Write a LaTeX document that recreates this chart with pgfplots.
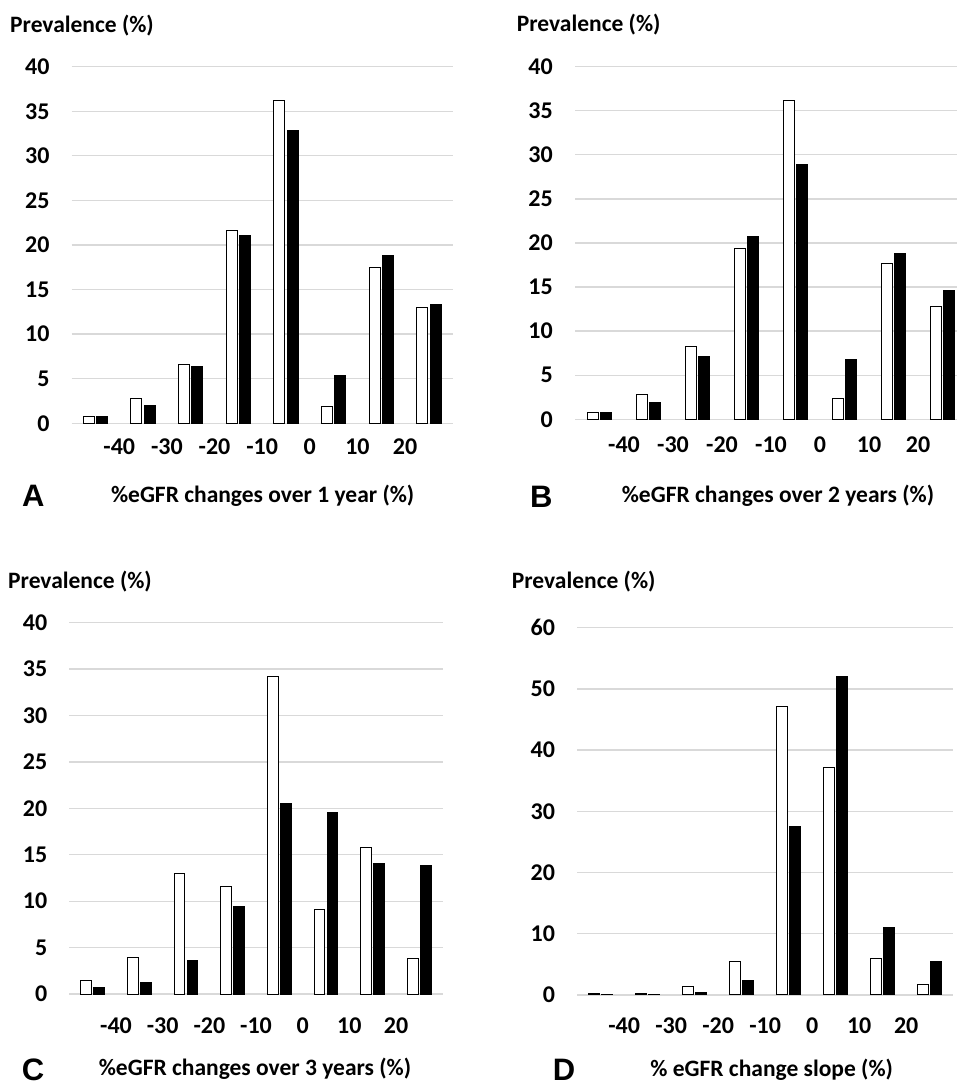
\documentclass[border=0pt]{standalone}
\usepackage{fontspec}
\setmainfont{Carlito}
\newfontfamily\letterfont{Liberation Sans}
\usepackage{pgfplots}
\pgfplotsset{compat=1.18}
\definecolor{gridgray}{RGB}{217,217,217}
\pgfplotsset{
  panel/.style={
    scale only axis, anchor=south west,
    xmin=-0.5, xmax=7.5, ymin=0,
    axis line style={draw=none},
    major tick length=0pt,
    ymajorgrids, grid style={gridgray, line width=1.3pt},
    xtick={0.5,1.5,2.5,3.5,4.5,5.5,6.5},
    xticklabels={-40,-30,-20,-10,0,10,20},
    /pgf/number format/assume math mode=true,
    ticklabel style={font=\fontsize{24}{24}\selectfont\bfseries, inner sep=0pt},
    yticklabel style={anchor=east, xshift=-22pt},
    clip=false,
  },
  wbar/.style={ybar, bar width=0.23, bar shift=-0.14, fill=white, draw=black, line width=1pt},
  bbar/.style={ybar, bar width=0.23, bar shift=0.14, fill=black, draw=black, line width=1pt},
}
\newcommand{\lblfont}{\fontsize{23.5}{23.5}\selectfont\bfseries}
\newcommand{\panelfont}{\letterfont\fontsize{31}{31}\selectfont\bfseries}
\begin{document}
\begin{tikzpicture}[x=1pt,y=1pt]
\path[use as bounding box] (0pt,0pt) rectangle (957pt,1088pt);
% Panel A
\begin{axis}[panel, at={(71.7pt,664.7pt)}, width=381pt, height=356.6pt, ymax=40,
  ytick={0,5,...,40}, xticklabel style={anchor=center, yshift=-23pt}]
\addplot[wbar] coordinates {(0,0.75) (1,2.73) (2,6.54) (3,21.57) (4,36.19) (5,1.94) (6,17.5) (7,13.0)};
\addplot[bbar] coordinates {(0,0.75) (1,1.98) (2,6.32) (3,21.05) (4,32.79) (5,5.38) (6,18.8) (7,13.27)};
\end{axis}
% Panel B
\begin{axis}[panel, at={(575pt,668.7pt)}, width=392pt, height=352.6pt, ymax=40,
  ytick={0,5,...,40}, xticklabel style={anchor=center, yshift=-25.7pt}]
\addplot[wbar] coordinates {(0,0.79) (1,2.84) (2,8.28) (3,19.36) (4,36.14) (5,2.31) (6,17.62) (7,12.85)};
\addplot[bbar] coordinates {(0,0.72) (1,1.89) (2,7.15) (3,20.72) (4,28.96) (5,6.84) (6,18.83) (7,14.56)};
\end{axis}
% Panel C
\begin{axis}[panel, at={(69.4pt,94pt)}, width=373.3pt, height=371.3pt, ymax=40,
  ytick={0,5,...,40}, xticklabel style={anchor=center, yshift=-31.7pt}]
\addplot[wbar] coordinates {(0,1.44) (1,3.95) (2,13.0) (3,11.56) (4,34.25) (5,9.12) (6,15.73) (7,3.84)};
\addplot[bbar] coordinates {(0,0.72) (1,1.22) (2,3.59) (3,9.48) (4,20.47) (5,19.5) (6,14.11) (7,13.86)};
\end{axis}
% Panel D
\begin{axis}[panel, at={(577.2pt,93pt)}, width=376pt, height=367.3pt, ymax=60,
  ytick={0,10,...,60}, xticklabel style={anchor=center, yshift=-30.7pt}]
\addplot[wbar] coordinates {(0,0.25) (1,0.25) (2,1.36) (3,5.55) (4,47.1) (5,37.2) (6,5.93) (7,1.74)};
\addplot[bbar] coordinates {(0,0.1) (1,0.1) (2,0.44) (3,2.34) (4,27.6) (5,52.1) (6,11.05) (7,5.55)};
\end{axis}
% Texts
\node[anchor=west, inner sep=0pt, font=\lblfont] at (10pt,1062pt) {Prevalence (\%)};
\node[anchor=west, inner sep=0pt, font=\lblfont] at (516.7pt,1063pt) {Prevalence (\%)};
\node[anchor=west, inner sep=0pt, font=\lblfont] at (8pt,506.3pt) {Prevalence (\%)};
\node[anchor=west, inner sep=0pt, font=\lblfont] at (511.7pt,506.3pt) {Prevalence (\%)};
\node[anchor=west, inner sep=0pt, font=\panelfont] at (22pt,592pt) {A};
\node[anchor=west, inner sep=0pt, font=\panelfont] at (530pt,591.3pt) {B};
\node[anchor=west, inner sep=0pt, font=\panelfont] at (21.7pt,18pt) {C};
\node[anchor=west, inner sep=0pt, font=\panelfont] at (552.7pt,18pt) {D};
\node[inner sep=0pt, font=\lblfont] at (262.7pt,592pt) {\%eGFR changes over 1 year (\%)};
\node[inner sep=0pt, font=\lblfont] at (778pt,592pt) {\%eGFR changes over 2 years (\%)};
\node[inner sep=0pt, font=\lblfont] at (255pt,19pt) {\%eGFR changes over 3 years (\%)};
\node[inner sep=0pt, font=\lblfont] at (771.7pt,18pt) {\% eGFR change slope (\%)};
\end{tikzpicture}
\end{document}
